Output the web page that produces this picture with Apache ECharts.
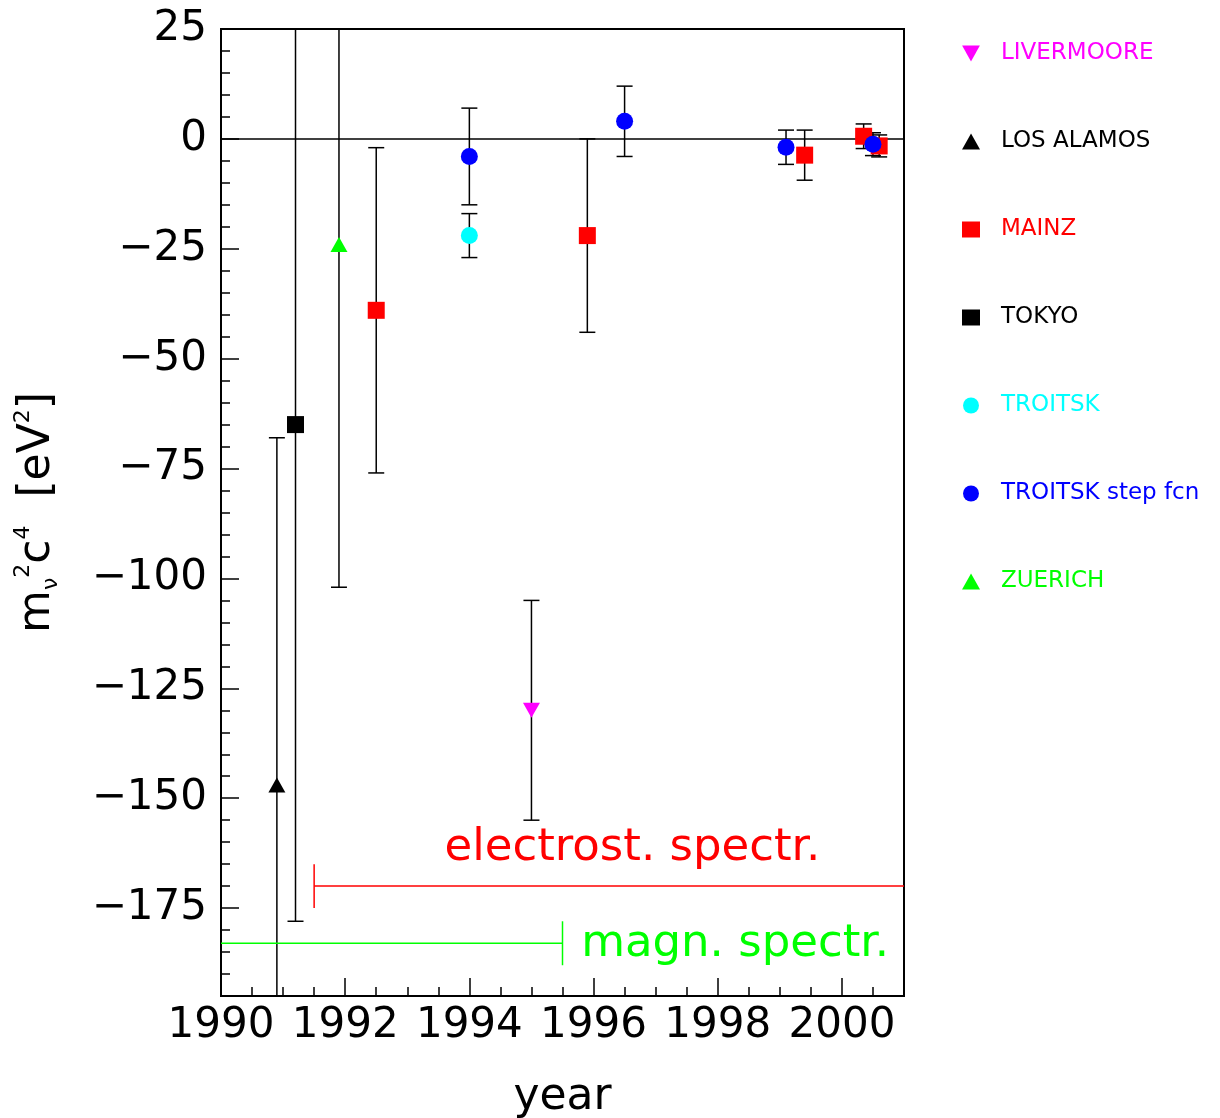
<!DOCTYPE html>
<html><head><meta charset="utf-8">
<script src="https://cdn.jsdelivr.net/npm/echarts@6/dist/echarts.min.js"></script>
<style>html,body{margin:0;padding:0;background:#fff}#chart{width:1220px;height:1118px}</style>
</head><body><div id="chart"></div>
<script>
// ---- data: [year, m^2 c^4 (eV^2), error] ----
const seriesNames = ['LIVERMOORE', 'LOS ALAMOS', 'MAINZ', 'TOKYO', 'TROITSK', 'TROITSK step fcn', 'ZUERICH'];
const livermoore = [[1995.0, -130, 25]];
const losAlamos = [[1990.9, -147, 79]];
const mainz = [[1992.5, -39, 37], [1995.9, -22, 22], [1999.4, -3.7, 5.7], [2000.35, 0.6, 2.8], [2000.6, -1.6, 2.5]];
const tokyo = [[1991.2, -65, 113]];
const troitsk = [[1994.0, -22, 5]];
const troitskStep = [[1994.0, -4, 11], [1996.5, 4, 8], [1999.1, -1.9, 3.9], [2000.5, -1.2, 2.6]];
const zuerich = [[1991.9, -24, 78]];
const yTickValues = [25, 0, -25, -50, -75, -100, -125, -150, -175];
const xTickValues = [1990, 1992, 1994, 1996, 1998, 2000];
// spectrometer ranges: [label, from, to, level, capAt]
const spectrometers = [
  ['electrost. spectr.', 1991.5, 2001, -170, 1991.5],
  ['magn. spectr.', 1990, 1995.5, -183, 1995.5]
];

// ---- styles / layout ----
const FONT = "'DejaVu Sans', sans-serif";
const groupData = [livermoore, losAlamos, mainz, tokyo, troitsk, troitskStep, zuerich];
const DOWN_TRI = 'path://M0,0L20,0L10,18Z';
const groupStyle = [
  {color: '#ff00ff', symbol: 'triangle', rotate: 180, size: [17, 15], icon: DOWN_TRI},
  {color: '#000000', symbol: 'triangle', rotate: 0, size: [17, 15]},
  {color: '#ff0000', symbol: 'rect', rotate: 0, size: [17, 17]},
  {color: '#000000', symbol: 'rect', rotate: 0, size: [17, 17]},
  {color: '#00ffff', symbol: 'circle', rotate: 0, size: [17, 17]},
  {color: '#0000ff', symbol: 'circle', rotate: 0, size: [17, 17]},
  {color: '#00ff00', symbol: 'triangle', rotate: 0, size: [17, 15]}
];
const specColors = ['#ff0000', '#00ff00'];
const specLabelAt = [[1993.6, -161.5], [1995.8, -183.3]];

const errData = [];
groupData.forEach(g => g.forEach(d => errData.push([d[0], d[1] - d[2], d[1] + d[2]])));

const chart = echarts.init(document.getElementById('chart'), null, {renderer: 'canvas'});

const series = [];
series.push({
  type: 'custom', name: 'errors', clip: true, silent: true, z: 2,
  data: errData,
  encode: {x: 0, y: [1, 2]},
  renderItem(params, api) {
    const x = api.value(0);
    const lo = api.coord([x, api.value(1)]);
    const hi = api.coord([x, api.value(2)]);
    const w = 8;
    const st = {stroke: '#000', lineWidth: 1.5};
    return {type: 'group', children: [
      {type: 'line', shape: {x1: lo[0], y1: lo[1], x2: hi[0], y2: hi[1]}, style: st},
      {type: 'line', shape: {x1: lo[0] - w, y1: lo[1], x2: lo[0] + w, y2: lo[1]}, style: st},
      {type: 'line', shape: {x1: hi[0] - w, y1: hi[1], x2: hi[0] + w, y2: hi[1]}, style: st}
    ]};
  },
  markLine: {
    silent: true, symbol: 'none', label: {show: false},
    lineStyle: {color: '#000', width: 1.5, type: 'solid'},
    data: [{yAxis: 0}]
  }
});
series.push({
  type: 'custom', name: 'spectrometers', clip: true, silent: true, z: 2,
  data: spectrometers.map(s => [s[1], s[2], s[3], s[4]]),
  encode: {x: [0, 1], y: 2},
  renderItem(params, api) {
    const i = params.dataIndex;
    const a = api.coord([api.value(0), api.value(2)]);
    const b = api.coord([api.value(1), api.value(2)]);
    const c1 = api.coord([api.value(3), api.value(2) + 5]);
    const c2 = api.coord([api.value(3), api.value(2) - 5]);
    const t = api.coord(specLabelAt[i]);
    const st = {stroke: specColors[i], lineWidth: 1.5};
    return {type: 'group', children: [
      {type: 'line', shape: {x1: a[0], y1: a[1], x2: b[0], y2: b[1]}, style: st},
      {type: 'line', shape: {x1: c1[0], y1: c1[1], x2: c2[0], y2: c2[1]}, style: st},
      {type: 'text', x: t[0], y: t[1], style: {text: spectrometers[i][0], fill: specColors[i],
        font: "45px " + FONT, align: 'left', verticalAlign: 'middle'}}
    ]};
  }
});
seriesNames.forEach((name, i) => {
  const s = groupStyle[i];
  series.push({
    type: 'scatter', name: name, z: 5,
    symbol: s.symbol, symbolRotate: s.rotate, symbolSize: s.size,
    itemStyle: {color: s.color, opacity: 1},
    data: groupData[i].map(d => [d[0], d[1]])
  });
});

const tickStyle = {color: '#000', width: 1.5};
const option = {
  animation: false,
  backgroundColor: '#fff',
  grid: {left: 221, right: 316, top: 29, bottom: 122, show: true, borderColor: '#000', borderWidth: 2,
    backgroundColor: 'transparent', outerBoundsMode: 'none', containLabel: false},
  legend: {
    orient: 'vertical', left: 957, top: 37, itemWidth: 18, itemHeight: 16, itemGap: 65,
    selectedMode: false,
    textStyle: {fontSize: 23, fontFamily: FONT, lineHeight: 23, padding: [0, 0, 0, 16]},
    data: seriesNames.map((n, i) => {
      const item = {name: n, textStyle: {color: groupStyle[i].color}};
      if (groupStyle[i].icon) item.icon = groupStyle[i].icon;
      return item;
    })
  },
  xAxis: [
    {type: 'value', min: 1990, max: 2001, interval: 0.5, position: 'bottom',
     axisLine: {show: true, onZero: false, lineStyle: {color: '#000', width: 2}},
     axisTick: {show: true, inside: true, length: 9, lineStyle: tickStyle},
     axisLabel: {show: false}, splitLine: {show: false}},
    {type: 'value', min: 1990, max: 2001, position: 'bottom',
     axisLine: {show: false, onZero: false},
     axisTick: {show: true, inside: true, length: 18, customValues: xTickValues, lineStyle: tickStyle},
     axisLabel: {show: true, customValues: xTickValues, fontSize: 42, fontFamily: FONT, color: '#000', margin: 9,
       formatter: v => String(v)},
     splitLine: {show: false},
     name: 'year', nameLocation: 'middle', nameGap: 80,
     nameTextStyle: {fontSize: 44, fontFamily: FONT, color: '#000'}}
  ],
  yAxis: [
    {type: 'value', min: -195, max: 25, interval: 5, position: 'left',
     axisLine: {show: true, onZero: false, lineStyle: {color: '#000', width: 2}},
     axisTick: {show: true, inside: true, length: 9, lineStyle: tickStyle},
     axisLabel: {show: false}, splitLine: {show: false}},
    {type: 'value', min: -195, max: 25, position: 'left',
     axisLine: {show: false, onZero: false},
     axisTick: {show: true, inside: true, length: 18, customValues: yTickValues, lineStyle: tickStyle},
     axisLabel: {show: true, customValues: yTickValues, fontSize: 42, fontFamily: FONT, color: '#000', margin: 14,
       formatter: v => (v < 0 ? '\u2212' + (-v) : String(v))},
     splitLine: {show: false},
     name: '{m|m}{sub|\u03bd}{sup|2}{m|c}{sup|4}{m|  [eV}{sup|2}{m|]}',
     nameLocation: 'middle', nameRotate: 90, nameGap: 153,
     nameTextStyle: {color: '#000', fontFamily: FONT,
       rich: {
         m: {fontSize: 44, fontFamily: FONT, color: '#000', lineHeight: 60, verticalAlign: 'middle'},
         sub: {fontSize: 22, fontFamily: FONT, color: '#000', lineHeight: 22, verticalAlign: 'bottom', padding: [0, 0, 6, 0]},
         sup: {fontSize: 22, fontFamily: FONT, color: '#000', lineHeight: 22, verticalAlign: 'top', padding: [4, 0, 0, 0]}
       }}}
  ],
  series: series
};
chart.setOption(option);
</script></body></html>
